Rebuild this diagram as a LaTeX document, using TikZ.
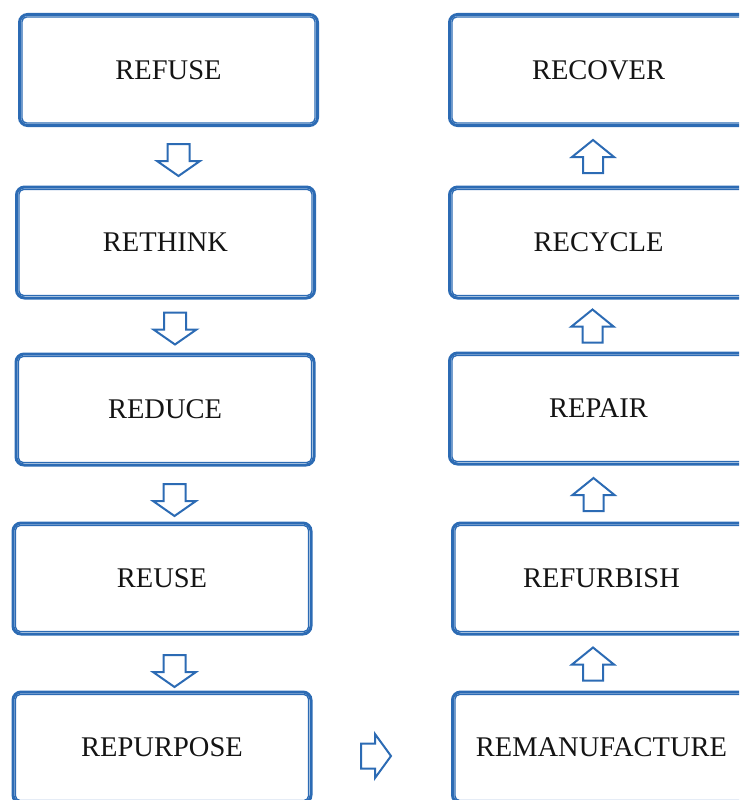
\documentclass[tikz,border=0pt]{standalone}
\usepackage{fontspec}
\setmainfont{Liberation Serif}
\definecolor{rblue}{RGB}{44,107,180}
\definecolor{rtext}{RGB}{20,20,20}
\tikzset{
  rbox/.style={draw=rblue, line width=3pt,
    rounded corners=8pt, minimum width=298pt, minimum height=111pt, inner sep=0pt,
    text=rtext, font=\fontsize{28.5}{34}\selectfont},
  rinner/.style={draw=rblue, line width=1.4pt, rounded corners=4.5pt},
  arrowline/.style={draw=rblue, line width=2pt, line join=miter, fill=white},
  downarr/.pic={\path[arrowline] (-11,-16) -- (-11,1) -- (-21.5,1) -- (0,16) -- (21.5,1) -- (11,1) -- (11,-16) -- cycle;},
  uparr/.pic={\path[arrowline] (-10,16.5) -- (-10,0.5) -- (-21,0.5) -- (0,-16.5) -- (21,0.5) -- (10,0.5) -- (10,16.5) -- cycle;},
  rightarr/.pic={\path[arrowline] (-15,-12.5) -- (-1,-12.5) -- (-1,-22) -- (15,0) -- (-1,22) -- (-1,12.5) -- (-15,12.5) -- cycle;}
}
\begin{document}
\begin{tikzpicture}[x=1pt,y=-1pt]
\useasboundingbox (0,0) rectangle (739,800);
\clip (0,0) rectangle (739,800);
% left column
\node[rbox] (refuse)    at (168.5,70)   {REFUSE};
\node[rbox] (rethink)   at (165.5,242.5) {RETHINK};
\node[rbox] (reduce)    at (165,409.5)  {REDUCE};
\node[rbox] (reuse)     at (162,578.5)  {REUSE};
\node[rbox] (repurpose) at (162,747.5)  {REPURPOSE};
% right column
\node[rbox] (recover)   at (598.5,70)   {RECOVER};
\node[rbox] (recycle)   at (598.5,242.5) {RECYCLE};
\node[rbox] (repair)    at (598.5,408.5) {REPAIR};
\node[rbox] (refurbish) at (601.5,578.5) {REFURBISH};
\node[rbox] (reman)     at (601.5,747.5) {REMANUFACTURE};
% inner lines of the double borders
\foreach \n in {refuse,rethink,reduce,reuse,repurpose,recover,recycle,repair,refurbish,reman}
  \draw[rinner] ([shift={(4,4)}]\n.north west) rectangle ([shift={(-4,-4)}]\n.south east);
% down arrows
\pic (d1) at (178.5,160)   {downarr};
\pic (d2) at (175,328.5)   {downarr};
\pic (d3) at (174.5,500)   {downarr};
\pic (d4) at (174.5,671)   {downarr};
% up arrows
\pic (u1) at (593,156.5)   {uparr};
\pic (u2) at (592.5,326)   {uparr};
\pic (u3) at (593.5,494.5) {uparr};
\pic (u4) at (593,664)     {uparr};
% right arrow
\pic (r1) at (376,756)     {rightarr};
\end{tikzpicture}
\end{document}
